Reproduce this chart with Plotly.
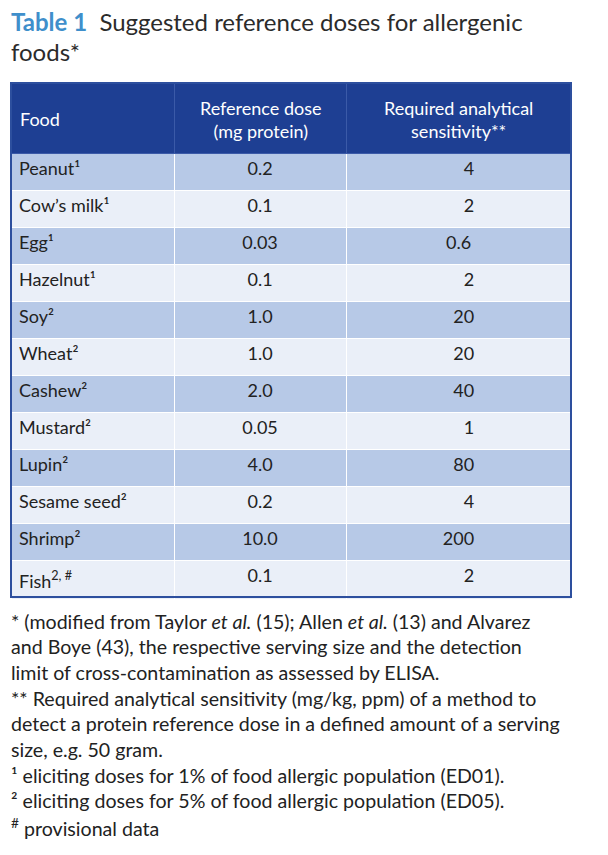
import plotly.graph_objects as go

# page is 608x855; the HTML body has an 8px margin, so the figure is 600x847
PAGE_OFF = 8
W, H = 600, 847

foods = ["Peanut¹", "Cow’s milk¹", "Egg¹", "Hazelnut¹",
         "Soy²", "Wheat²", "Cashew²", "Mustard²",
         "Lupin²", "Sesame seed²", "Shrimp²", "Fish<sup>2, #</sup>"]
ref_dose = ["0.2", "0.1", "0.03", "0.1", "1.0", "1.0", "2.0", "0.05", "4.0", "0.2", "10.0", "0.1"]
sensitivity = ["4", "2", "0.6", "2", "20", "20", "40", "1", "80", "4", "200", "2"]
headers = ["Food", "Reference dose<br>(mg protein)", "Required analytical<br>sensitivity**"]

footnotes = [
    "* (modified from Taylor <i>et al.</i> (15); Allen <i>et al.</i> (13) and Alvarez",
    "and Boye (43), the respective serving size and the detection",
    "limit of cross-contamination as assessed by ELISA.",
    "** Required analytical sensitivity (mg/kg, ppm) of a method to",
    "detect a protein reference dose in a defined amount of a serving",
    "size, e.g. 50 gram.",
    "¹ eliciting doses for 1% of food allergic population (ED01).",
    "² eliciting doses for 5% of food allergic population (ED05).",
    "<sup>#</sup> provisional data",
]

FONT = "Lato"
HEAD_BLUE = "#1e3f93"
DARK_ROW = "#b7c9e7"
LIGHT_ROW = "#eaeff8"
TEXT = "#222222"

x0, x1 = 11, 571
col_w = [163, 172, 225]
top, header_h, row_h = 83, 70, 37
bottom = top + header_h + row_h * len(foods)


def px_x(x):
    return (x - PAGE_OFF) / W


def px_y(y):
    return 1 - (y - PAGE_OFF) / H


row_fill = [DARK_ROW if i % 2 == 0 else LIGHT_ROW for i in range(len(foods))]
# numbers in the last column are right-aligned inside a centred block
sens_display = [s.rjust(3, "\u2007") for s in sensitivity]

fig = go.Figure()
fig.add_trace(go.Table(
    domain=dict(x=[px_x(x0), px_x(x1)], y=[px_y(bottom + 30), px_y(top)]),
    columnwidth=col_w,
    header=dict(
        values=["", "", ""],
        fill_color=HEAD_BLUE,
        line=dict(color="#3b5aa8", width=1),
        font=dict(family=FONT, size=18, color="white"),
        height=header_h,
    ),
    cells=dict(
        values=[foods, ref_dose, sens_display],
        fill_color=[row_fill, row_fill, row_fill],
        line=dict(color="white", width=1),
        align=["left", "center", "center"],
        font=dict(family=FONT, size=18, color=TEXT),
        height=row_h,
    ),
))

# header labels, vertically centred in the header band
edges = [x0]
for w in col_w:
    edges.append(edges[-1] + w * (x1 - x0) / sum(col_w))
for i, label in enumerate(headers):
    if i == 0:
        xa, anchor = edges[0] + 7, "left"
    else:
        xa, anchor = (edges[i] + edges[i + 1]) / 2, "center"
    fig.add_annotation(x=px_x(xa), y=px_y(top + header_h / 2 + 1), xref="paper", yref="paper",
                       text=label, showarrow=False, xanchor=anchor, yanchor="middle",
                       align="center", font=dict(family=FONT, size=18, color="white"))

# outer border
fig.add_shape(type="rect", xref="paper", yref="paper",
              x0=px_x(x0), x1=px_x(x1), y0=px_y(bottom), y1=px_y(top),
              line=dict(color="#2d4f9e", width=2))

# title
fig.add_annotation(x=px_x(9), y=px_y(22), xref="paper", yref="paper", showarrow=False,
                   xanchor="left", yanchor="middle",
                   text="<span style='color:#3f8fcb'><b>Table 1</b></span>  Suggested reference doses for allergenic",
                   font=dict(family=FONT, size=24, color="#2b2b2b"))
fig.add_annotation(x=px_x(9), y=px_y(51), xref="paper", yref="paper", showarrow=False,
                   xanchor="left", yanchor="middle", text="foods*",
                   font=dict(family=FONT, size=24, color="#2b2b2b"))

# footnotes
for i, line in enumerate(footnotes):
    fig.add_annotation(x=px_x(9), y=px_y(621 + i * 25.7), xref="paper", yref="paper",
                       showarrow=False, xanchor="left", yanchor="middle", text=line,
                       font=dict(family=FONT, size=19.6, color=TEXT))

fig.update_layout(width=W, height=H, margin=dict(l=0, r=0, t=0, b=0),
                  paper_bgcolor="white", plot_bgcolor="white")
fig.write_html("out.html")
